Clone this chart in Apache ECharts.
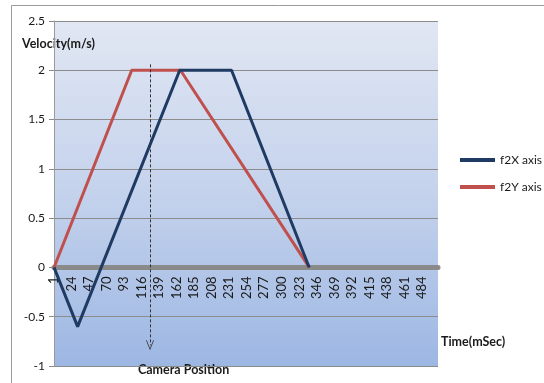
<!DOCTYPE html>
<html>
<head>
<meta charset="utf-8">
<script src="https://cdn.jsdelivr.net/npm/echarts@6/dist/echarts.min.js"></script>
<style>
  html, body { margin: 0; padding: 0; background: #ffffff; }
  #chart { width: 544px; height: 383px; }
</style>
</head>
<body>
<div id="chart"></div>
<script>
// Velocity profiles (m/s) against time (ms), corner points of each trace
const f2xTime = [1, 32, 166, 234, 336];
const f2xVel  = [0, -0.6, 2, 2, 0];
const f2yTime = [1, 103, 167, 336];
const f2yVel  = [0, 2, 2, 0];

// Time axis tick labels (ms)
const timeTicks = [1, 24, 47, 70, 93, 116, 139, 162, 185, 208, 231, 254, 277, 300, 323, 346, 369, 392, 415, 438, 461, 484];

// Camera trigger marker: time (ms) and vertical extent (m/s)
const cameraTime = 127;
const cameraSpan = [2.06, -0.79];

const seriesNames = ['f2X axis', 'f2Y axis'];
const seriesColors = ['#1f3a63', '#c0504d'];

const zip = (xs, ys) => xs.map((x, i) => [x, ys[i]]);

const FONT = 'Lato, "Open Sans", sans-serif';
const TEXT = '#1a1a1a';

// Plot box (px) and velocity range; the time axis is lifted to sit on v = 0
const GRID = { left: 54, right: 106, top: 21, bottom: 17 };
const V_MIN = -1, V_MAX = 2.5;
const plotH = 383 - GRID.top - GRID.bottom;
const zeroLift = plotH * (0 - V_MIN) / (V_MAX - V_MIN);

const chart = echarts.init(document.getElementById('chart'), null, { renderer: 'canvas' });

chart.setOption({
  animation: false,
  backgroundColor: '#ffffff',
  textStyle: { fontFamily: FONT, color: TEXT },
  grid: Object.assign({}, GRID, {
    containLabel: false,
    outerBoundsMode: 'none',
    show: true,
    borderWidth: 0,
    backgroundColor: new echarts.graphic.LinearGradient(0, 0, 0, 1, [
      { offset: 0, color: '#e1e7f3' },
      { offset: 0.5, color: '#c4d2ec' },
      { offset: 1, color: '#9db7e3' }
    ])
  }),
  legend: {
    orient: 'vertical',
    left: 460, top: 154,
    padding: 0,
    itemWidth: 35, itemHeight: 4, itemGap: 15,
    icon: 'rect',
    textStyle: { fontFamily: FONT, fontSize: 12, color: TEXT },
    data: seriesNames
  },
  xAxis: {
    type: 'value',
    min: 1, max: 505,
    position: 'bottom',
    offset: -zeroLift,
    axisLine: { show: true, onZero: false, lineStyle: { color: '#8a8a8a', width: 5 } },
    axisTick: { show: false },
    splitLine: { show: false },
    axisLabel: {
      customValues: timeTicks,
      rotate: 90,
      margin: 9,
      fontSize: 13,
      color: TEXT,
      fontFamily: FONT
    }
  },
  yAxis: {
    type: 'value',
    min: V_MIN, max: V_MAX, interval: 0.5,
    axisLine: { show: true, onZero: false, lineStyle: { color: '#9a9a9a', width: 1 } },
    axisTick: { show: true, length: 5, lineStyle: { color: '#8a8a8a' } },
    splitLine: { show: true, lineStyle: { color: '#8c8c8c', width: 1 } },
    axisLabel: { fontSize: 12, color: TEXT, margin: 9, fontFamily: FONT }
  },
  series: [
    {
      name: seriesNames[0],
      type: 'line',
      data: zip(f2xTime, f2xVel),
      showSymbol: false,
      color: seriesColors[0],
      lineStyle: { width: 3, color: seriesColors[0] },
      z: 3
    },
    {
      name: seriesNames[1],
      type: 'line',
      data: zip(f2yTime, f2yVel),
      showSymbol: false,
      color: seriesColors[1],
      lineStyle: { width: 3, color: seriesColors[1] },
      z: 2,
      markLine: {
        silent: true,
        symbol: ['none', 'path://M5,0L10,10L9,10L5,2L1,10L0,10Z'],
        symbolSize: [8, 10],
        label: { show: false },
        lineStyle: { type: [3, 2], color: '#333333', width: 1 },
        data: [[
          { coord: [cameraTime, cameraSpan[0]] },
          { coord: [cameraTime, cameraSpan[1]] }
        ]]
      }
    }
  ],
  graphic: [
    {
      type: 'rect', silent: true, z: -1,
      shape: { x: 11.5, y: 5.5, width: 700, height: 500 },
      style: { fill: null, stroke: '#9a9a9a', lineWidth: 1 }
    },
    {
      type: 'text', left: 22, top: 37,
      style: { text: 'Velocity(m/s)', fontFamily: FONT, fontWeight: 'bold', fontSize: 12.5, fill: TEXT }
    },
    {
      type: 'text', left: 441, top: 335,
      style: { text: 'Time(mSec)', fontFamily: FONT, fontWeight: 'bold', fontSize: 12.5, fill: TEXT }
    },
    {
      type: 'text', left: 138, top: 363,
      style: { text: 'Camera Position', fontFamily: FONT, fontWeight: 'bold', fontSize: 12.5, fill: TEXT }
    }
  ]
});
</script>
</body>
</html>
